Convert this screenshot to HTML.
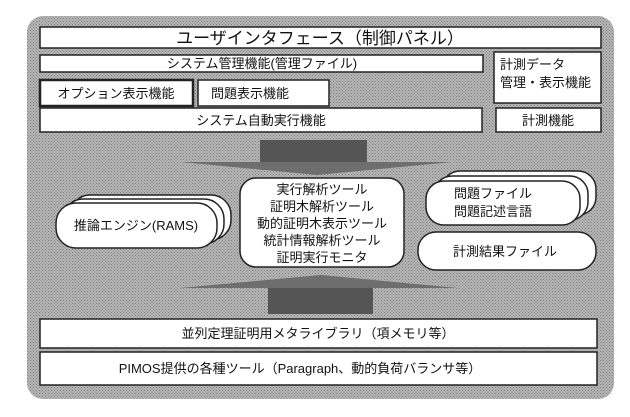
<!DOCTYPE html>
<html><head><meta charset="utf-8"><style>
body{margin:0;background:#fff;}
svg{display:block;}
text{font-family:"Liberation Sans","Noto Sans CJK JP",sans-serif;fill:#111;}
</style></head><body>
<svg width="630" height="417" viewBox="0 0 630 417" xmlns="http://www.w3.org/2000/svg">
<defs>
<pattern id="h" width="3" height="3" patternUnits="userSpaceOnUse">
<rect width="3" height="3" fill="#b8b8b8"/>
<rect width="1" height="1" fill="#7a7a7a"/><rect x="1.5" y="1.5" width="1" height="1" fill="#7a7a7a"/>
</pattern>
</defs>
<rect x="27" y="16" width="587" height="383" rx="16" fill="url(#h)"/>
<g fill="#fff" stroke="#222" stroke-width="1.5">
<rect x="40" y="27" width="561" height="21"/>
<rect x="40" y="55" width="443" height="17"/>
<rect x="494" y="52" width="107" height="51"/>
<rect x="40" y="80" width="153" height="26" stroke-width="2.5"/>
<rect x="198" y="80" width="131" height="26"/>
<rect x="40" y="108" width="442" height="24"/>
<rect x="496" y="108" width="105" height="24"/>
<rect x="40" y="319" width="557" height="29"/>
<rect x="40" y="352" width="557" height="33"/>
<rect x="240" y="178" width="164" height="89" rx="16"/>
<rect x="70" y="195" width="161" height="45" rx="20"/>
<rect x="63" y="199" width="161" height="45" rx="20"/>
<rect x="56" y="203" width="161" height="45" rx="20"/>
<rect x="442" y="171" width="154" height="44" rx="18"/>
<rect x="434" y="176" width="154" height="44" rx="18"/>
<rect x="426" y="181" width="154" height="44" rx="18"/>
<rect x="418" y="232" width="178" height="38" rx="18"/>
</g>
<rect x="260" y="140" width="107" height="22" fill="#555"/>
<polygon points="181,162 452,162 317,175" fill="#6e6e6e"/>
<polygon points="180,288 458,288 321,275" fill="#6e6e6e"/>
<rect x="268" y="288" width="105" height="26" fill="#555"/>
<g font-size="13" text-anchor="middle">
<text x="320" y="44" font-size="17">ユーザインタフェース（制御パネル）</text>
<text x="262" y="68">システム管理機能(管理ファイル)</text>
<text x="116" y="98">オプション表示機能</text>
<text x="250" y="98" text-anchor="middle">問題表示機能</text>
<text x="261" y="125">システム自動実行機能</text>
<text x="548" y="125">計測機能</text>
<text x="500" y="69" text-anchor="start">計測データ</text>
<text x="500" y="87" text-anchor="start">管理・表示機能</text>
<text x="322" y="194">実行解析ツール</text>
<text x="322" y="211">証明木解析ツール</text>
<text x="322" y="228">動的証明木表示ツール</text>
<text x="322" y="245">統計情報解析ツール</text>
<text x="322" y="262">証明実行モニタ</text>
<text x="136" y="230">推論エンジン(RAMS)</text>
<text x="493" y="198">問題ファイル</text>
<text x="493" y="216">問題記述言語</text>
<text x="505" y="256">計測結果ファイル</text>
<text x="318" y="338">並列定理証明用メタライブラリ（項メモリ等）</text>
<text x="300" y="373">PIMOS提供の各種ツール（Paragraph、動的負荷バランサ等）</text>
</g>
</svg>
</body></html>
